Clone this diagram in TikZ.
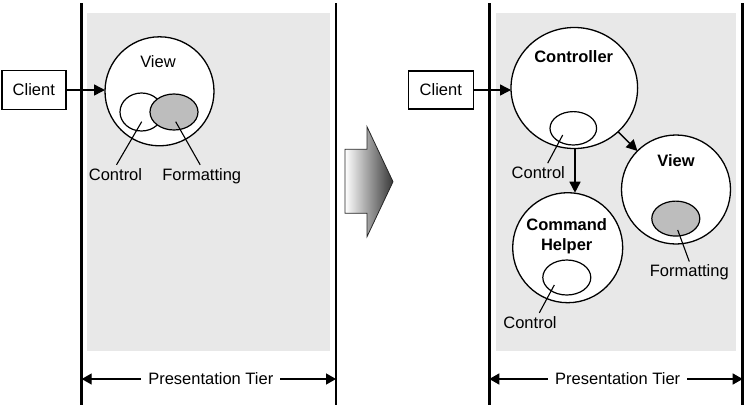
\documentclass[tikz,border=0pt]{standalone}
\usepackage{fontspec}
\setmainfont{Liberation Sans}
\usetikzlibrary{shapes.geometric,arrows.meta,calc}
\definecolor{tierbg}{HTML}{E8E8E8}
\definecolor{fmtfill}{HTML}{BDBDBD}
\begin{document}
\begin{tikzpicture}[x=1pt,y=-1pt,
  font=\fontsize{16.5}{20}\selectfont,
  tierline/.style={line width=2.8pt},
  tierbox/.style={fill=tierbg},
  clientbox/.style={draw, line width=1.4pt, minimum width=64pt, minimum height=39pt, inner sep=0pt, outer sep=0pt},
  bigcirc/.style={ellipse, draw, fill=white, line width=1.3pt, inner sep=0pt, outer sep=0pt},
  smallell/.style={ellipse, draw, line width=1.2pt, inner sep=0pt, outer sep=0pt},
  lbl/.style={inner sep=3pt, anchor=base},
  leader/.style={line width=1.1pt},
  conn/.style={line width=1.5pt, -{Triangle[length=11pt,width=11pt]}},
  tierarrow/.style={line width=1.4pt, {Triangle[length=10pt,width=11pt]}-{Triangle[length=10pt,width=11pt]}},
  tierlbl/.style={inner xsep=7pt, inner ysep=0pt, fill=white}
]
\useasboundingbox (0,0) rectangle (752,416);

% ---------- left panel ----------
\fill[tierbox] (87,13) rectangle (330,351);
\coordinate (lA) at (81.7,379);
\coordinate (lB) at (336,379);
\draw[tierline] (81.7,3) -- (81.7,405);
\draw[tierline] (336,3) -- (336,405);

\node[clientbox] (clientL) at (33.8,90) {Client};
\node[bigcirc, minimum width=109pt, minimum height=109pt] (viewL) at (159.5,91.3) {};
\node[lbl] at (158,67) {View};
\node[smallell, fill=white, minimum width=43pt, minimum height=38pt] (ctlL) at (141.5,112) {};
\node[smallell, fill=fmtfill, minimum width=48pt, minimum height=36pt] (fmtL) at (174,112) {};
\node[lbl] (ctlLlbl) at (115.5,180) {Control};
\node[lbl] (fmtLlbl) at (201.7,180) {Formatting};
\draw[leader] ($(ctlL.center)+(0.2,9.7)$) -- ([xshift=1pt]ctlLlbl.north);
\draw[leader] ($(fmtL.center)+(1.7,9.7)$) -- ([xshift=-1.5pt]fmtLlbl.north);
\coordinate (inL) at (clientL.east -| viewL.west);
\draw[conn] (clientL.east) -- (inL);

\draw[tierarrow] (lA) -- (lB);
\node[tierlbl] (tierL) at (210.8,379) {Presentation Tier};

% ---------- big transition arrow ----------
\shade[left color=white, right color=black!78, draw=black!85, line width=0.8pt]
  (345,149.3) -- (367,149.3) -- (367,126.7) -- (393,181.7) -- (367,236.7)
  -- (367,213.3) -- (345,213.3) -- cycle;

% ---------- right panel ----------
\fill[tierbox] (496,13) rectangle (736,351);
\coordinate (rA) at (489.3,379);
\coordinate (rB) at (742.7,379);
\draw[tierline] (489.3,3) -- (489.3,405);
\draw[tierline] (742.7,3) -- (742.7,405);

\node[clientbox, minimum width=65pt, minimum height=38pt] (clientR) at (440.8,90) {Client};

\node[bigcirc, minimum width=126.6pt, minimum height=121pt] (ctrl) at (574.3,88) {};
\node[lbl, font=\fontsize{16.5}{20}\selectfont\bfseries] at (573.7,62) {Controller};
\node[smallell, fill=white, minimum width=46.6pt, minimum height=33.4pt] (ctlC) at (573.3,128.3) {};
\node[lbl] (ctlClbl) at (538.3,178.3) {Control};
\draw[leader] ($(ctlC.center)+(-10.6,6.7)$) -- ([xshift=9.4pt]ctlClbl.north);

\node[bigcirc, minimum width=110pt, minimum height=110pt] (cmd) at (567.7,247.7) {};
\node[inner sep=0pt, align=center, font=\fontsize{16.5}{20}\selectfont\bfseries] at (566.7,236) {Command\\Helper};
\node[smallell, fill=white, minimum width=48pt, minimum height=35pt] (ctlH) at (566.8,277.5) {};
\node[lbl] (ctlHlbl) at (530,328) {Control};
\draw[leader] ($(ctlH.center)+(-12.5,7.5)$) -- ([xshift=9.3pt]ctlHlbl.north);

\node[bigcirc, minimum width=109pt, minimum height=109pt] (viewR) at (676,189.5) {};
\node[lbl, font=\fontsize{16.5}{20}\selectfont\bfseries] at (676,166.7) {View};
\node[smallell, fill=fmtfill, minimum width=48pt, minimum height=35pt] (fmtR) at (675.8,218.6) {};
\node[lbl] (fmtRlbl) at (689.3,276.7) {Formatting};
\draw[leader] ($(fmtR.center)+(1.9,11.4)$) -- (fmtRlbl.north);

\coordinate (inR) at (clientR.east -| ctrl.west);
\draw[conn] (clientR.east) -- (inR);
\draw[conn] ([xshift=0.7pt]ctrl.south) -- ([xshift=0.7pt]ctrl.south |- cmd.north);
\draw[conn] (ctrl.-45) -- (viewR.135);

\draw[tierarrow] (rA) -- (rB);
\node[tierlbl] (tierR) at (617.7,379) {Presentation Tier};
\end{tikzpicture}
\end{document}
